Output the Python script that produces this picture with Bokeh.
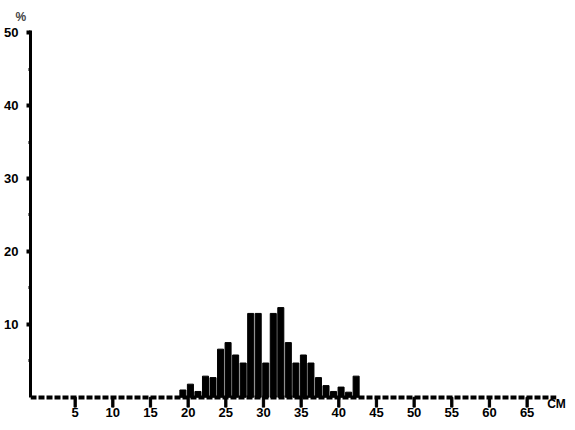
from bokeh.plotting import figure
from bokeh.models import ColumnDataSource, FixedTicker, Range1d
from bokeh.transform import dodge
from bokeh.embed import file_html
from bokeh.resources import INLINE

# data: length class (cm) and percentage
length_cm = [19, 20, 21, 22, 23, 24, 25, 26, 27, 28, 29, 30, 31, 32, 33, 34, 35, 36, 37, 38, 39, 40, 41, 42]
percent = [1.0, 1.8, 0.8, 2.9, 2.7, 6.6, 7.5, 5.8, 4.7, 11.5, 11.5, 4.7, 11.5, 12.3, 7.5, 4.7, 5.8, 4.7, 2.7, 1.6, 0.8, 1.4, 0.7, 2.9]
x_ticks = [5, 10, 15, 20, 25, 30, 35, 40, 45, 50, 55, 60, 65]
y_ticks = [10, 20, 30, 40, 50]
y_minor = [5, 15, 25, 35, 45]

FONT = "Liberation Sans"
W, H = 567, 422
Y_START, Y_END = -1.4, 50.3   # frame extends a little below the zero line for the tick marks

p = figure(width=W, height=H, output_backend="svg", toolbar_location=None,
           x_range=Range1d(-0.93, 68.9), y_range=Range1d(Y_START, Y_END),
           min_border_left=30, min_border_right=11, min_border_top=30, min_border_bottom=15)
p.outline_line_color = None
p.grid.visible = False
p.background_fill_color = "white"

# "%" unit as a left-aligned title above the y axis
p.title.text = "%"
p.title.align = "left"
p.title.offset = -15
p.title.standoff = 14
p.title.text_font = FONT
p.title.text_font_size = "12px"
p.title.text_font_style = "bold"

src = ColumnDataSource(dict(cm=length_cm, pct=percent))
p.vbar(x=dodge("cm", 0.3, range=p.x_range), top="pct", width=0.8, source=src,
       fill_color="black", line_color="black")

# tick marks hanging below the zero line, drawn as thin filled bars
tick_src = ColumnDataSource(dict(x=x_ticks, top=[0] * len(x_ticks), bottom=[Y_START] * len(x_ticks)))
p.vbar(x="x", top="top", bottom="bottom", width=0.3, source=tick_src,
       fill_color="black", line_color="black", line_width=1)

# dashed baseline
p.hspan(y=[0], line_color="black", line_width=4, line_dash="6 2")

xa = p.xaxis[0]
xa.ticker = FixedTicker(ticks=x_ticks)
xa.axis_line_color = None
xa.major_tick_line_color = None
xa.minor_tick_line_color = None
xa.major_tick_out = 0
xa.major_tick_in = 0
xa.major_label_standoff = 0
xa.major_label_text_font = FONT
xa.major_label_text_font_size = "13px"
xa.major_label_text_font_style = "bold"
xa.major_label_text_color = "black"
xa.axis_label = "CM"
xa.axis_label_text_font = FONT
xa.axis_label_text_font_size = "12px"
xa.axis_label_text_font_style = "bold"
xa.axis_label_text_color = "black"
xa.axis_label_standoff = -23
if "axis_label_align" in xa.properties():
    xa.axis_label_align = "end"

ya = p.yaxis[0]
ya.ticker = FixedTicker(ticks=y_ticks, minor_ticks=y_minor)
ya.bounds = (0, Y_END)
ya.axis_line_width = 3
ya.axis_line_color = "black"
ya.major_tick_out = 4
ya.major_tick_in = 0
ya.major_tick_line_width = 4
ya.minor_tick_out = 2
ya.minor_tick_in = 0
ya.minor_tick_line_width = 3
ya.major_label_standoff = 8
ya.major_label_text_font = FONT
ya.major_label_text_font_size = "13px"
ya.major_label_text_font_style = "bold"
ya.major_label_text_color = "black"

open("out.html", "w").write(file_html(p, INLINE))
